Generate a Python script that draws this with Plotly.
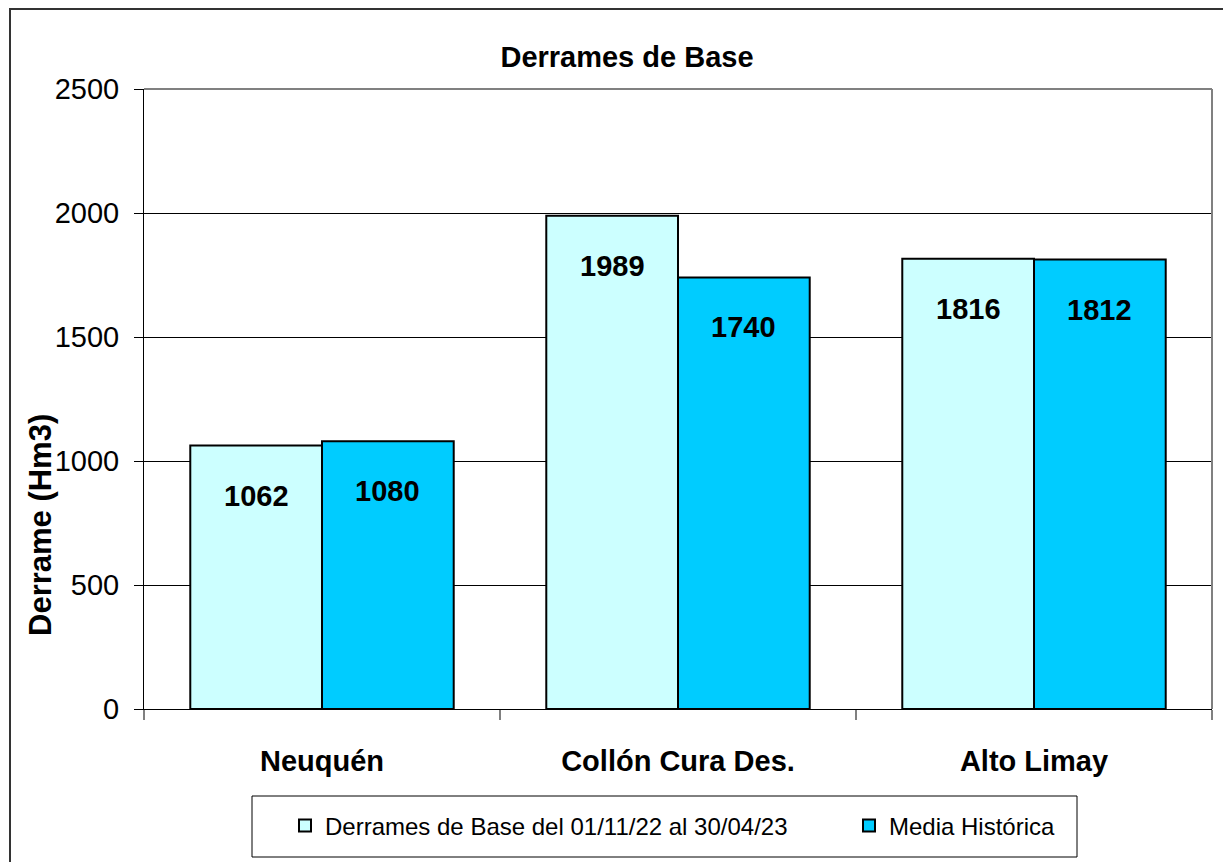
import plotly.graph_objects as go

categories = ["Neuquén", "Collón Cura Des.", "Alto Limay"]
base_values = [1062, 1989, 1816]
media_values = [1080, 1740, 1812]
series_names = ["Derrames de Base del 01/11/22 al 30/04/23", "Media Histórica"]
y_ticks = [0, 500, 1000, 1500, 2000, 2500]

FONT = "Liberation Sans, Arial, sans-serif"

# page body has an 8px margin; work in screen (reference) pixels and convert
OFF = 8
W, H = 1231 - OFF, 862 - OFF
PL, PR, PT, PB = 144, 1212, 89, 709          # plot area in screen px
L, T = PL - OFF, PT - OFF
R, B = W - (PR - OFF), H - (PB - OFF)
pw, ph = PR - PL, PB - PT

def px_x(sx):
    return (sx - PL) / pw

def px_y(sy):
    return (PB - sy) / ph

fig = go.Figure()
fig.add_trace(go.Bar(x=categories, y=base_values, name=series_names[0], legend="legend",
                     marker=dict(color="#CCFFFF", line=dict(color="black", width=2))))
fig.add_trace(go.Bar(x=categories, y=media_values, name=series_names[1], legend="legend2",
                     marker=dict(color="#00CCFF", line=dict(color="black", width=2))))

# data labels inside bars near the top
for vals, off in [(base_values, -0.185), (media_values, 0.185)]:
    for j, v in enumerate(vals):
        fig.add_annotation(x=j + off, y=v, xref="x", yref="y", text=f"<b>{v}</b>",
                           showarrow=False, yanchor="middle", yshift=-50,
                           font=dict(family=FONT, size=29, color="black"))

leg_common = dict(orientation="h", xanchor="left", yanchor="middle",
                  borderwidth=0, bgcolor="rgba(0,0,0,0)",
                  font=dict(family=FONT, size=24), itemwidth=30)

fig.update_layout(
    width=W, height=H,
    margin=dict(l=L, r=R, t=T, b=B, autoexpand=False),
    paper_bgcolor="white", plot_bgcolor="white",
    barmode="group", bargap=0.26, bargroupgap=0,
    font=dict(family=FONT, color="black"),
    title=dict(text="<b>Derrames de Base</b>", x=px_x(627), xref="paper", xanchor="center",
               y=1 - (57 - OFF) / H, yanchor="middle", font=dict(family=FONT, size=29), automargin=False),
    showlegend=True,
    legend=dict(x=px_x(285), y=px_y(826), **leg_common),
    legend2=dict(x=px_x(849), y=px_y(826), **leg_common),
    xaxis=dict(type="category", showline=True, linecolor="black", linewidth=1,
               ticks="outside", tickson="boundaries", ticklen=10, tickcolor="gray", tickwidth=2,
               tickfont=dict(family=FONT, size=29, weight="bold"), ticklabelstandoff=26,
               showgrid=False, range=[-0.5, 2.5], automargin=False),
    yaxis=dict(range=[0, 2500], tickvals=y_ticks, showline=True, linecolor="black", linewidth=1,
               ticks="outside", ticklen=9, tickcolor="black",
               tickfont=dict(family=FONT, size=29), ticklabelstandoff=9,
               showgrid=True, gridcolor="black", gridwidth=1, zeroline=False, automargin=False),
)

# y axis title
fig.add_annotation(text="<b>Derrame (Hm3)</b>", xref="paper", yref="paper", x=px_x(40), y=px_y(525),
                   textangle=-90, showarrow=False, xanchor="center", yanchor="middle",
                   font=dict(family=FONT, size=31))

# legend box
fig.add_shape(type="rect", xref="paper", yref="paper",
              x0=px_x(252), x1=px_x(1077), y0=px_y(857), y1=px_y(796),
              line=dict(color="black", width=1), fillcolor="white", layer="below")

# plot area border (top, right) in gray
fig.add_shape(type="line", xref="paper", yref="paper", x0=0, x1=1, y0=1, y1=1,
              line=dict(color="#808080", width=2))
fig.add_shape(type="line", xref="paper", yref="paper", x0=1, x1=1, y0=0, y1=1,
              line=dict(color="#808080", width=2))
# outer chart border
fig.add_shape(type="rect", xref="paper", yref="paper",
              x0=px_x(10), x1=px_x(1240), y0=px_y(875), y1=px_y(9),
              line=dict(color="#333333", width=2), layer="below")

fig.write_html("out.html")
